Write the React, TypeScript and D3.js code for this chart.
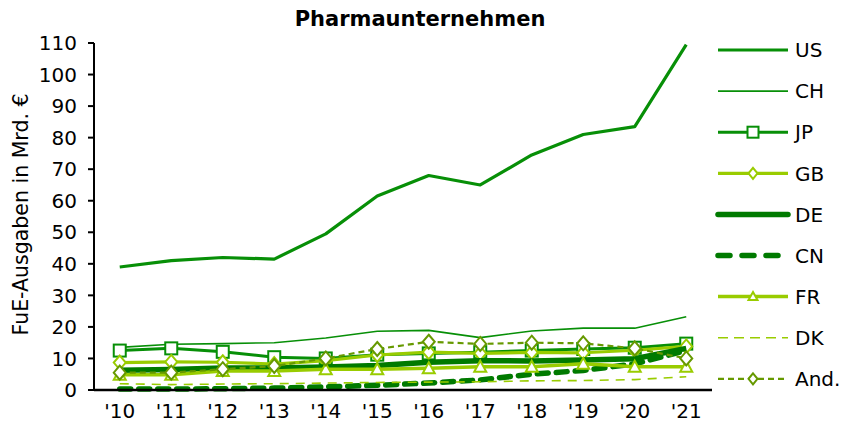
import React from 'react';
import * as d3 from 'd3';

const years = ["'10", "'11", "'12", "'13", "'14", "'15", "'16", "'17", "'18", "'19", "'20", "'21"];
const yTicks = [0, 10, 20, 30, 40, 50, 60, 70, 80, 90, 100, 110];

const usValues = [39, 41, 42, 41.5, 49.5, 61.5, 68, 65, 74.5, 81, 83.5, 109.5];
const chValues = [13.5, 14.5, 14.7, 15, 16.5, 18.6, 18.9, 16.6, 18.7, 19.6, 19.6, 23.2];
const jpValues = [12.5, 13.2, 12.1, 10.4, 10, 11.2, 11.6, 12, 12.5, 13, 13.4, 14.7];
const gbValues = [8.7, 8.9, 8.8, 8.2, 9.3, 11.1, 12, 11.6, 11.9, 11.8, 12.6, 13.8];
const deValues = [6.3, 6.5, 7, 7, 7.3, 7.8, 8.8, 9.3, 9.2, 9.5, 9.9, 13.2];
const cnValues = [0.3, 0.3, 0.4, 0.6, 1, 1.5, 2.2, 3.2, 5, 6.2, 8.3, 12.5];
const frValues = [4.8, 4.8, 6, 6, 6.6, 6.6, 6.9, 7.4, 7.4, 8.3, 7.4, 7.4];
const dkValues = [2, 1.7, 1.9, 2, 2.2, 2.4, 2.5, 2.6, 2.9, 3, 3.3, 4.2];
const andValues = [5.5, 5.5, 6.6, 7.6, 10, 13, 15.3, 14.6, 15, 14.8, 13.2, 10];

type Marker = 'none' | 'square' | 'diamond' | 'triangle';

interface Series {
  name: string;
  values: number[];
  color: string;
  width: number;
  dash?: string;
  marker: Marker;
}

const series: Series[] = [
  { name: 'US', values: usValues, color: '#078f07', width: 3.2, marker: 'none' },
  { name: 'CH', values: chValues, color: '#078f07', width: 1.6, marker: 'none' },
  { name: 'JP', values: jpValues, color: '#078f07', width: 3, marker: 'square' },
  { name: 'GB', values: gbValues, color: '#99cc00', width: 3.2, marker: 'diamond' },
  { name: 'DE', values: deValues, color: '#007a00', width: 5.5, marker: 'none' },
  { name: 'CN', values: cnValues, color: '#007a00', width: 5.5, dash: '11,8', marker: 'none' },
  { name: 'FR', values: frValues, color: '#99cc00', width: 3.5, marker: 'triangle' },
  { name: 'DK', values: dkValues, color: '#99cc00', width: 1.6, dash: '9,7', marker: 'none' },
  { name: 'And.', values: andValues, color: '#669900', width: 2.2, dash: '6,4', marker: 'diamond' },
];

const width = 845;
const height = 430;
const margin = { top: 43, right: 133, bottom: 40, left: 94 };
const innerWidth = width - margin.left - margin.right;
const innerHeight = height - margin.top - margin.bottom;

const font = '"DejaVu Sans", Verdana, sans-serif';

const MarkerShape: React.FC<{ type: Marker; x: number; y: number; color: string; size?: number }> = ({ type, x, y, color, size = 12 }) => {
  const h = size / 2;
  if (type === 'square') {
    return <rect x={x - h} y={y - h} width={size} height={size} fill="#fff" stroke={color} strokeWidth={2} />;
  }
  if (type === 'diamond') {
    const pts = [[x, y - h - 1], [x + h, y], [x, y + h + 1], [x - h, y]].map(p => p.join(',')).join(' ');
    return <polygon points={pts} fill="#fff" stroke={color} strokeWidth={2} />;
  }
  if (type === 'triangle') {
    const pts = [[x, y - h], [x + h, y + h - 1], [x - h, y + h - 1]].map(p => p.join(',')).join(' ');
    return <polygon points={pts} fill="#fff" stroke={color} strokeWidth={2} />;
  }
  return null;
};

const App: React.FC = () => {
  const xScale = d3.scaleBand<string>().domain(years).range([0, innerWidth]);
  const yScale = d3.scaleLinear().domain([0, 110]).range([innerHeight, 0]);
  const cx = (d: string) => (xScale(d) || 0) + xScale.bandwidth() / 2;

  const line = d3.line<number>()
    .x((_, i) => cx(years[i]))
    .y(d => yScale(d));

  const legendX = 718;
  const legendY0 = 50;
  const legendStep = 41.1;

  return (
    <svg width={width} height={height} style={{ position: 'absolute', left: 0, top: 0 }}>
      <rect width={width} height={height} fill="#fff" />
      <text x={420} y={26} textAnchor="middle" fontFamily={font} fontWeight="bold" fontSize={21} fill="#000">
        Pharmaunternehmen
      </text>
      <text
        transform={`translate(28,${margin.top + innerHeight / 2 - 2}) rotate(-90)`}
        textAnchor="middle"
        fontFamily={font}
        fontSize={20.5}
        fill="#000"
      >
        FuE-Ausgaben in Mrd. €
      </text>

      <g transform={`translate(${margin.left},${margin.top})`}>
        {/* y axis */}
        <line x1={0} x2={0} y1={0} y2={innerHeight} stroke="#000" strokeWidth={2} />
        {yTicks.map(t => (
          <g key={t} transform={`translate(0,${yScale(t)})`}>
            <line x1={-6} x2={0} y1={0} y2={0} stroke="#000" strokeWidth={2} />
            <text x={-17} y={0} dy="0.36em" textAnchor="end" fontFamily={font} fontSize={20} fill="#000">{t}</text>
          </g>
        ))}
        {/* x labels */}
        {years.map(y => (
          <text key={y} x={cx(y)} y={innerHeight + 28} textAnchor="middle" fontFamily={font} fontSize={20} fill="#000">{y}</text>
        ))}

        {/* series */}
        {series.map(s => (
          <g key={s.name}>
            <path
              d={line(s.values) || undefined}
              fill="none"
              stroke={s.color}
              strokeWidth={s.width}
              strokeDasharray={s.dash}
              strokeLinecap={s.name === 'CN' ? 'round' : 'butt'}
              strokeLinejoin="round"
            />
            {s.marker !== 'none' && s.values.map((v, i) => (
              <MarkerShape key={i} type={s.marker} x={cx(years[i])} y={yScale(v)} color={s.color} />
            ))}
          </g>
        ))}

        {/* x axis */}
        <line x1={0} x2={innerWidth} y1={innerHeight} y2={innerHeight} stroke="#000" strokeWidth={2.5} />
      </g>

      {/* legend */}
      {series.map((s, i) => {
        const ly = legendY0 + i * legendStep;
        return (
          <g key={s.name}>
            <line
              x1={legendX}
              x2={legendX + 70}
              y1={ly}
              y2={ly}
              stroke={s.color}
              strokeWidth={s.width}
              strokeDasharray={s.name === 'CN' ? '12,12' : s.name === 'DK' ? '10,6' : s.dash}
              strokeLinecap={s.name === 'CN' || s.name === 'DE' ? 'round' : 'butt'}
            />
            {s.marker !== 'none' && (
              <MarkerShape type={s.marker} x={legendX + 35} y={ly} color={s.color} size={s.marker === 'square' ? 11 : 9} />
            )}
            <text x={legendX + 77} y={ly} dy="0.36em" fontFamily={font} fontSize={20} fill="#000">{s.name}</text>
          </g>
        );
      })}
    </svg>
  );
};

export default App;
